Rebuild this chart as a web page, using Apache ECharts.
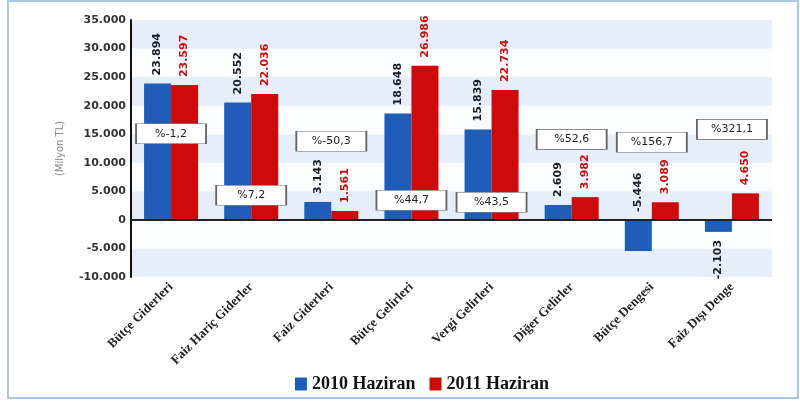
<!DOCTYPE html>
<html>
<head>
<meta charset="utf-8">
<script src="https://cdn.jsdelivr.net/npm/echarts@6/dist/echarts.min.js"></script>
<style>html,body{margin:0;padding:0;background:#fff}#c{width:800px;height:403px}</style>
</head>
<body>
<div id="c"></div>
<script>
const categories = ["Bütçe Giderleri", "Faiz Hariç Giderler", "Faiz Giderleri", "Bütçe Gelirleri", "Vergi Gelirleri", "Diğer Gelirler", "Bütçe Dengesi", "Faiz Dışı Denge"];
const values2010 = [23894, 20552, 3143, 18648, 15839, 2609, -5446, -2103];
const values2011 = [23597, 22036, 1561, 26986, 22734, 3982, 3089, 4650];
const changeLabels = ["%-1,2", "%7,2", "%-50,3", "%44,7", "%43,5", "%52,6", "%156,7", "%321,1"];
const changeBoxValues = [15070, 4320, 13760, 3450, 3100, 14100, 13580, 15850];
const seriesNames = ["2010 Haziran", "2011 Haziran"];
const yTicks = {min: -10000, max: 35000, interval: 5000};

function fmt(v) {
  const s = Math.abs(Math.round(v)).toString().replace(/\B(?=(\d{3})+(?!\d))/g, '.');
  return (v < 0 ? '-' : '') + s;
}

const BLUE = '#1f5db8', RED = '#cf0a0a';

function barLabel(color) {
  return {
    show: true, position: 'top', rotate: 90, align: 'left', verticalAlign: 'middle',
    distance: 8, color: color, fontFamily: 'DejaVu Sans', fontWeight: 'bold', fontSize: 11,
    formatter: p => fmt(p.value)
  };
}

const d2010 = values2010.map((v, i) => {
  if (i === 7) return {value: v, label: {position: 'bottom', align: 'right'}};
  return v;
});

const chart = echarts.init(document.getElementById('c'), null, {renderer: 'canvas'});
chart.setOption({
  animation: false,
  backgroundColor: '#fff',
  graphic: [{
    type: 'rect', shape: {x: 8, y: 1, width: 790, height: 397},
    style: {fill: 'none', stroke: '#a8c8e6', lineWidth: 2}, silent: true, z: -1
  }],
  grid: {left: 131, right: 28, top: 20, bottom: 126, containLabel: false},
  legend: {
    data: seriesNames, left: 290, top: 370, itemWidth: 12, itemHeight: 13, itemGap: 14,
    icon: 'rect',
    textStyle: {fontFamily: 'Liberation Serif', fontWeight: 'bold', fontSize: 18, color: '#111'}
  },
  xAxis: {
    type: 'category', data: categories,
    axisLine: {show: false}, axisTick: {show: false},
    axisLabel: {rotate: 45, margin: 8, interval: 0, fontFamily: 'Liberation Serif', fontWeight: 'bold', fontSize: 13, color: '#222'}
  },
  yAxis: {
    type: 'value', min: yTicks.min, max: yTicks.max, interval: yTicks.interval,
    name: '(Milyon TL)', nameLocation: 'middle', nameGap: 66, nameRotate: 90,
    nameTextStyle: {color: '#888', fontSize: 10, fontFamily: 'DejaVu Sans'},
    axisLine: {show: true, lineStyle: {color: '#111', width: 2}},
    axisTick: {show: false},
    splitLine: {show: false},
    splitArea: {show: true, areaStyle: {color: ['#e6eff9', '#fbfcfe']}},
    axisLabel: {formatter: v => fmt(v), fontFamily: 'DejaVu Sans', fontWeight: 'bold', fontSize: 11, color: '#333', margin: 5}
  },
  series: [
    {
      name: seriesNames[0], type: 'bar', data: d2010, barWidth: 27, barGap: '0%',
      itemStyle: {color: BLUE}, label: barLabel('#1a1a2a'),
      markLine: {silent: true, symbol: 'none', label: {show: false},
        lineStyle: {color: '#222', width: 2, type: 'solid'}, data: [{yAxis: 0}]}
    },
    {
      name: seriesNames[1], type: 'bar', data: values2011, barWidth: 27,
      itemStyle: {color: RED}, label: barLabel('#c41010')
    },
    {
      name: 'change', type: 'scatter', z: 5,
      data: changeBoxValues.map((v, i) => [i, v]),
      symbol: 'rect', symbolSize: [70, 20],
      itemStyle: {color: '#fff', borderColor: '#666', borderWidth: 1, opacity: 1},
      label: {show: true, position: 'inside', color: '#222', fontFamily: 'DejaVu Sans', fontSize: 11,
        formatter: p => changeLabels[p.dataIndex]}
    }
  ]
});
</script>
</body>
</html>
